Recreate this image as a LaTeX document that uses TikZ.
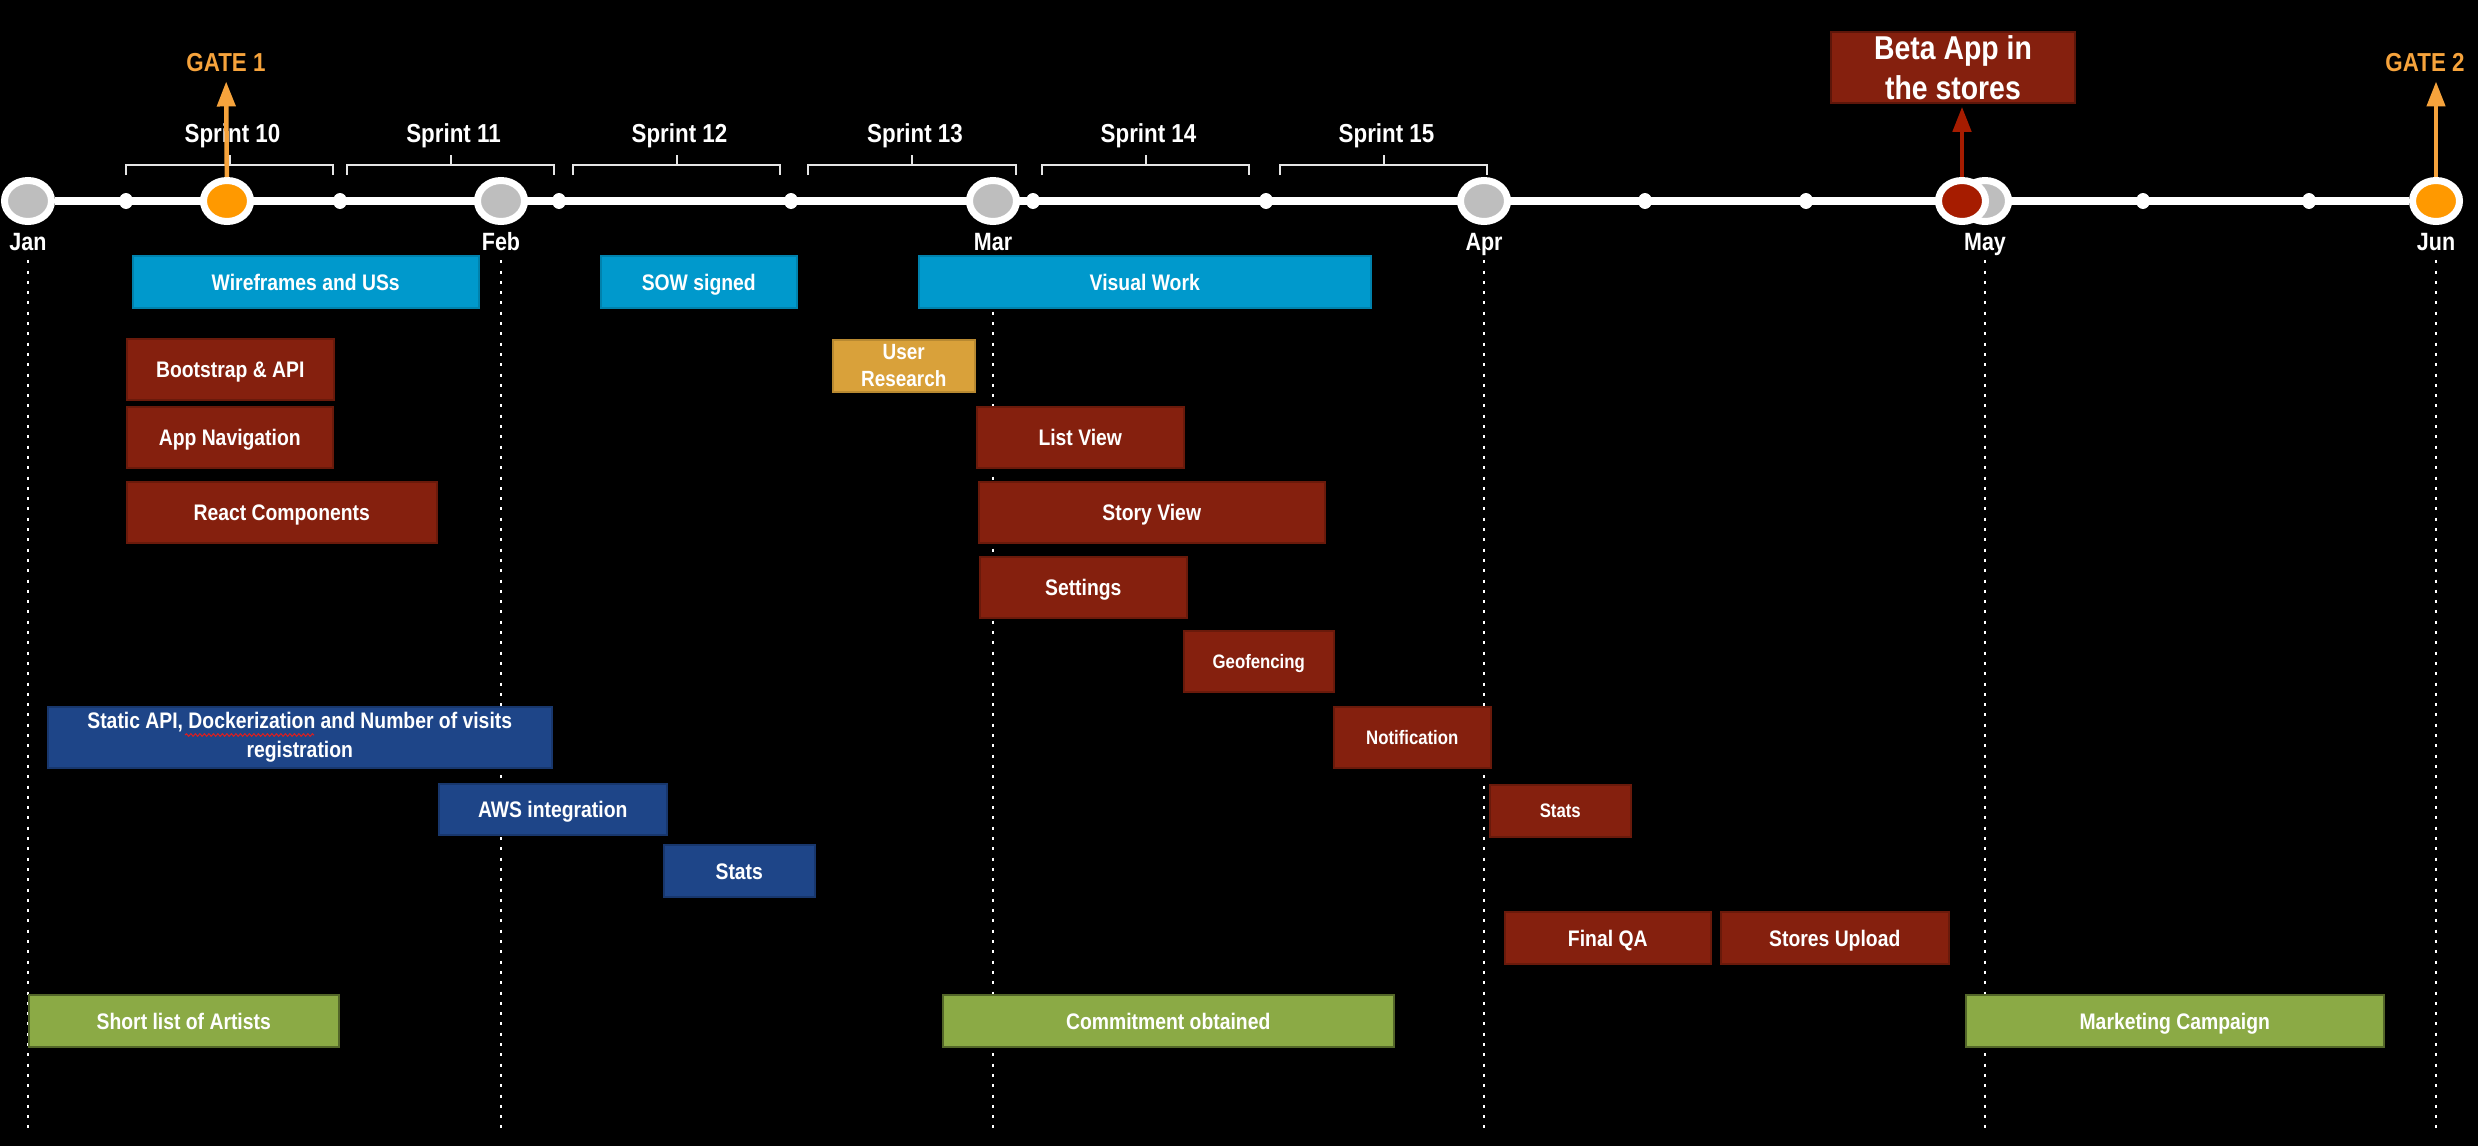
\documentclass[tikz,border=0pt]{standalone}
\usepackage{fontspec}
\setmainfont{Liberation Sans}[FakeStretch=0.86]
\usetikzlibrary{shapes.geometric,arrows.meta,backgrounds,decorations.pathmorphing}
\definecolor{barblue}{RGB}{0,153,204}
\definecolor{barnavy}{RGB}{30,69,136}
\definecolor{barred}{RGB}{133,32,14}
\definecolor{bargold}{RGB}{217,161,58}
\definecolor{bargreen}{RGB}{139,170,69}
\definecolor{gatefill}{RGB}{255,153,0}
\definecolor{gateline}{RGB}{246,163,60}
\definecolor{mayred}{RGB}{166,28,0}
\definecolor{dotgrey}{RGB}{190,190,190}
\definecolor{spellred}{RGB}{225,30,30}
\begin{document}
\begin{tikzpicture}
                [x=1pt,y=-1pt,node distance=40pt,
                 month/.style={ellipse,draw=white,line width=7pt,fill=dotgrey,minimum width=47pt,minimum height=41pt,inner sep=0pt},
                 gate/.style={month,fill=gatefill},
                 tick/.style={ellipse,fill=white,minimum width=14pt,minimum height=16pt,inner sep=0pt},
                 timeline/.style={white,line width=7.5pt},
                 monthline/.style={white,line width=2pt,dash pattern=on 3pt off 7.3pt,shorten <=10pt},
                 bracket/.style={white!90!black,line width=2pt},
                 monthtxt/.style={text=white,inner sep=0pt,text height=18pt,text depth=0pt,font=\bfseries\fontsize{25}{30}\selectfont},
                 sprinttxt/.style={text=white,inner sep=0pt,anchor=base,font=\bfseries\fontsize{26}{30}\selectfont},
                 gatetxt/.style={text=gateline,inner sep=0pt,anchor=base,font=\bfseries\fontsize{26}{30}\selectfont},
                 gatearrow/.style={-{Triangle[width=18pt,length=25pt]},gateline,line width=4.5pt,shorten >=10pt},
                 betaarrow/.style={-{Triangle[width=18pt,length=25pt]},mayred,line width=4.5pt,shorten >=3pt},
                 betabox/.style={rectangle,fill=barred,draw=barred!70!black,line width=1.5pt,text=white,align=center,
                                 minimum width=244pt,minimum height=71pt,inner sep=0pt,font=\bfseries\fontsize{33}{40}\selectfont},
                 barbase/.style={rectangle,anchor=north west,inner sep=0pt,align=center,text=white,line width=1.5pt,
                                 font=\bfseries\fontsize{22.5}{29}\selectfont},
                 bar/.style={barbase,text height=16.5pt,text depth=0pt},
                 small/.style={text height=14.3pt,font=\bfseries\fontsize{19.5}{24}\selectfont},
                 redbar/.style={bar,fill=barred,draw=barred!80!black},
                 bluebar/.style={bar,fill=barblue,draw=barblue!85!black},
                 navybar/.style={bar,fill=barnavy,draw=barnavy!80!black},
                 greenbar/.style={bar,fill=bargreen,draw=bargreen!60!black}]
                \useasboundingbox (0,0) rectangle (2478,1146);
                \coordinate (bottom) at (0,1133);

                \node[month] (jan) at (28,201) {};
                \node[month] (feb) at (501,201) {};
                \node[month] (mar) at (993,201) {};
                \node[month] (apr) at (1484,201) {};
                \node[month] (may) at (1985,201) {};
                \node[gate] (jun) at (2436,201) {};
                \node[gate] (g1) at (227,201) {};
                \node[month,fill=mayred] (beta) at (1962,201) {};
                \foreach \x [count=\i] in {126,340,559,791,1033,1266,1645,1806,2143,2309}
                {
                    \node[tick] (d\i) at (\x,201) {};
                }

                \node[monthtxt] (janl) [below of=jan] {Jan};
                \node[monthtxt] (febl) [below of=feb] {Feb};
                \node[monthtxt] (marl) [below of=mar] {Mar};
                \node[monthtxt] (aprl) [below of=apr] {Apr};
                \node[monthtxt] (mayl) [below of=may] {May};
                \node[monthtxt] (junl) [below of=jun] {Jun};

                \begin{scope}[on background layer]
                    \fill[black] (0,0) rectangle (2478,1146);
                    \draw[timeline] (jan) -- (jun);
                    \foreach \m in {janl,febl,marl,aprl,mayl,junl}
                    {
                        \draw[monthline] (\m.south) -- (\m.south |- bottom);
                    }
                \end{scope}

                \foreach \n/\a/\b in {10/126/333,11/347/554,12/573/780,13/808/1016,14/1042/1249,15/1280/1487}
                {
                    \draw[bracket] (\a,175) |- (\b,165) -- (\b,175);
                    \draw[bracket] ({(\a+\b)/2},165) -- ({(\a+\b)/2},155);
                    \node[sprinttxt] (s\n) at ({(\a+\b)/2+3},142) {Sprint \n};
                }

                \node[gatetxt] (g1t) at (226,71) {GATE 1};
                \node[gatetxt] (g2t) at (2425,71) {GATE 2};
                \draw[gatearrow] (g1) -- (g1t);
                \draw[gatearrow] (jun.north) -- (jun.north |- g2t.south);
                \node[betabox] (betabox) at (1953,67.5) {Beta App in\\the stores};
                \draw[betaarrow] (beta.north) -- (beta.north |- betabox.south);

                \node[bluebar,minimum width=346pt,minimum height=52pt] (wire) at (132,255) {Wireframes and USs};
                \node[bluebar,minimum width=196pt,minimum height=52pt] (sow) at (600,255) {SOW signed};
                \node[bluebar,minimum width=452pt,minimum height=52pt] (visual) at (918,255) {Visual Work};
                \node[redbar,minimum width=207pt,minimum height=61pt] (boot) at (126,338) {Bootstrap \& API};
                \node[barbase,fill=bargold,draw=bargold!85!black,font=\bfseries\fontsize{22}{27}\selectfont,
                      minimum width=142pt,minimum height=52pt] (research) at (832,339) {User\\Research};
                \node[redbar,minimum width=206pt,minimum height=61pt] (nav) at (126,406) {App Navigation};
                \node[redbar,minimum width=207pt,minimum height=61pt] (listv) at (976,406) {List View};
                \node[redbar,minimum width=310pt,minimum height=61pt] (react) at (126,481) {React Components};
                \node[redbar,minimum width=346pt,minimum height=61pt] (storyv) at (978,481) {Story View};
                \node[redbar,minimum width=207pt,minimum height=61pt] (settings) at (979,556) {Settings};
                \node[redbar,small,minimum width=150pt,minimum height=61pt] (geo) at (1183,630) {Geofencing};
                \node[redbar,small,minimum width=157pt,minimum height=61pt] (notif) at (1333,706) {Notification};
                \node[barbase,fill=barnavy,draw=barnavy!80!black,
                      minimum width=504pt,minimum height=61pt] (static) at (47,706) {Static API, Dockerization and Number of visits\\registration};
                \node[navybar,minimum width=228pt,minimum height=51pt] (aws) at (438,783) {AWS integration};
                \node[redbar,small,minimum width=141pt,minimum height=52pt] (statsr) at (1489,784) {Stats};
                \node[navybar,minimum width=151pt,minimum height=52pt] (statsb) at (663,844) {Stats};
                \node[redbar,minimum width=206pt,minimum height=52pt] (qa) at (1504,911) {Final QA};
                \node[redbar,minimum width=228pt,minimum height=52pt] (upload) at (1720,911) {Stores Upload};
                \node[greenbar,minimum width=310pt,minimum height=52pt] (artists) at (28,994) {Short list of Artists};
                \node[greenbar,minimum width=451pt,minimum height=52pt] (commit) at (942,994) {Commitment obtained};
                \node[greenbar,minimum width=418pt,minimum height=52pt] (mkt) at (1965,994) {Marketing Campaign};

                \draw[spellred,line width=1pt,decorate,decoration={snake,amplitude=1.3pt,segment length=4.5pt}] (185,735) -- (314,735);
            \end{tikzpicture}
\end{document}
